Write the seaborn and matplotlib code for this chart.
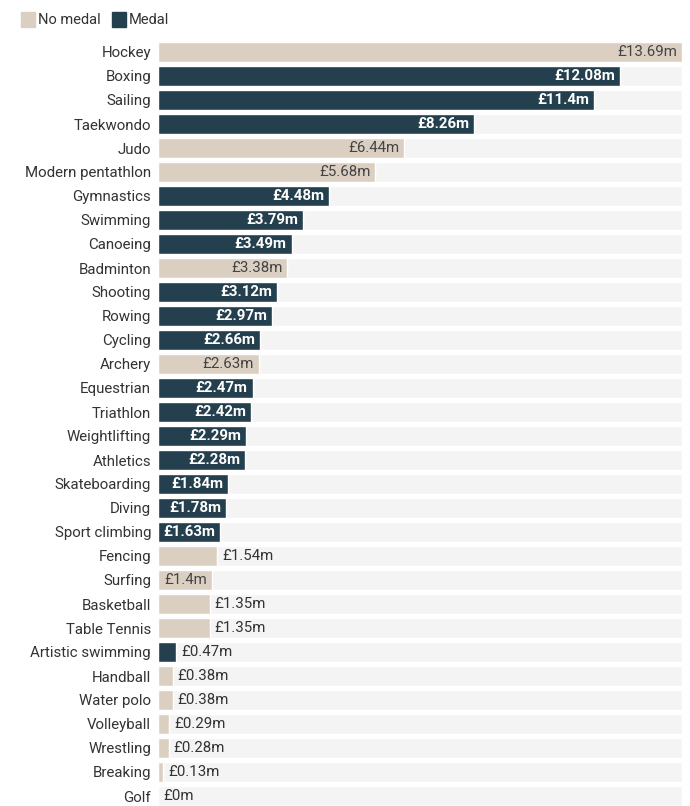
import pandas as pd
import seaborn as sns
import matplotlib.pyplot as plt

sports = ["Hockey", "Boxing", "Sailing", "Taekwondo", "Judo", "Modern pentathlon",
          "Gymnastics", "Swimming", "Canoeing", "Badminton", "Shooting", "Rowing",
          "Cycling", "Archery", "Equestrian", "Triathlon", "Weightlifting", "Athletics",
          "Skateboarding", "Diving", "Sport climbing", "Fencing", "Surfing", "Basketball",
          "Table Tennis", "Artistic swimming", "Handball", "Water polo", "Volleyball",
          "Wrestling", "Breaking", "Golf"]
funding = [13.69, 12.08, 11.4, 8.26, 6.44, 5.68, 4.48, 3.79, 3.49, 3.38, 3.12, 2.97,
           2.66, 2.63, 2.47, 2.42, 2.29, 2.28, 1.84, 1.78, 1.63, 1.54, 1.4, 1.35,
           1.35, 0.47, 0.38, 0.38, 0.29, 0.28, 0.13, 0.0]
medal = ["No medal", "Medal", "Medal", "Medal", "No medal", "No medal",
         "Medal", "Medal", "Medal", "No medal", "Medal", "Medal",
         "Medal", "No medal", "Medal", "Medal", "Medal", "Medal",
         "Medal", "Medal", "Medal", "No medal", "No medal", "No medal",
         "No medal", "Medal", "No medal", "No medal", "No medal",
         "No medal", "No medal", "No medal"]

df = pd.DataFrame({"sport": sports, "funding": funding, "medal": medal})
df["track"] = max(funding)

palette = {"No medal": "#dbcfc2", "Medal": "#243f4e"}

sns.set_style("white")
plt.rcParams["font.family"] = ["Roboto", "DejaVu Sans"]
FS = 10.8

fig = plt.figure(figsize=(6.9, 8.06), dpi=100)
ax = fig.add_axes([158 / 690, -2 / 806, 524 / 690, 768 / 806])

# background tracks
sns.barplot(data=df, y="sport", x="track", color="#f4f4f4", width=0.83,
            saturation=1, ax=ax)
sns.barplot(data=df, y="sport", x="funding", hue="medal", palette=palette,
            hue_order=["No medal", "Medal"], dodge=False, width=0.83,
            saturation=1, legend=False, ax=ax)

ax.set_xlim(0, max(funding))
ax.set_ylim(len(sports) - 0.5, -0.5)
ax.set_xlabel("")
ax.set_ylabel("")
ax.set_xticks([])
ax.tick_params(axis="y", length=0, pad=5, labelsize=FS, labelcolor="#333333")
sns.despine(left=True, bottom=True)

fig.canvas.draw()
renderer = fig.canvas.get_renderer()
px_per_unit = ax.bbox.width / max(funding)

for i, (v, m) in enumerate(zip(funding, medal)):
    label = f"£{v:g}m"
    bold = m == "Medal"
    t = ax.text(0, i, label, fontsize=FS, fontweight="bold" if bold else "normal")
    w = t.get_window_extent(renderer).width
    t.remove()
    if v * px_per_unit >= w + 10.5:
        ax.text(v - 5 / px_per_unit, i, label, ha="right", va="center", fontsize=FS,
                fontweight="bold" if bold else "normal",
                color="white" if bold else "#444444")
    else:
        ax.text(v + 5 / px_per_unit, i, label, ha="left", va="center", fontsize=FS,
                color="#333333")

# legend
for x0, name in [(21, "No medal"), (112, "Medal")]:
    fig.patches.append(plt.Rectangle((x0 / 690, 1 - 27 / 806), 14 / 690, 15 / 806,
                                     transform=fig.transFigure, color=palette[name]))
    fig.text((x0 + 17) / 690, 1 - 19.5 / 806, name, fontsize=10.5, color="#333333",
             va="center", ha="left")

fig.savefig("out.png", dpi=100)
